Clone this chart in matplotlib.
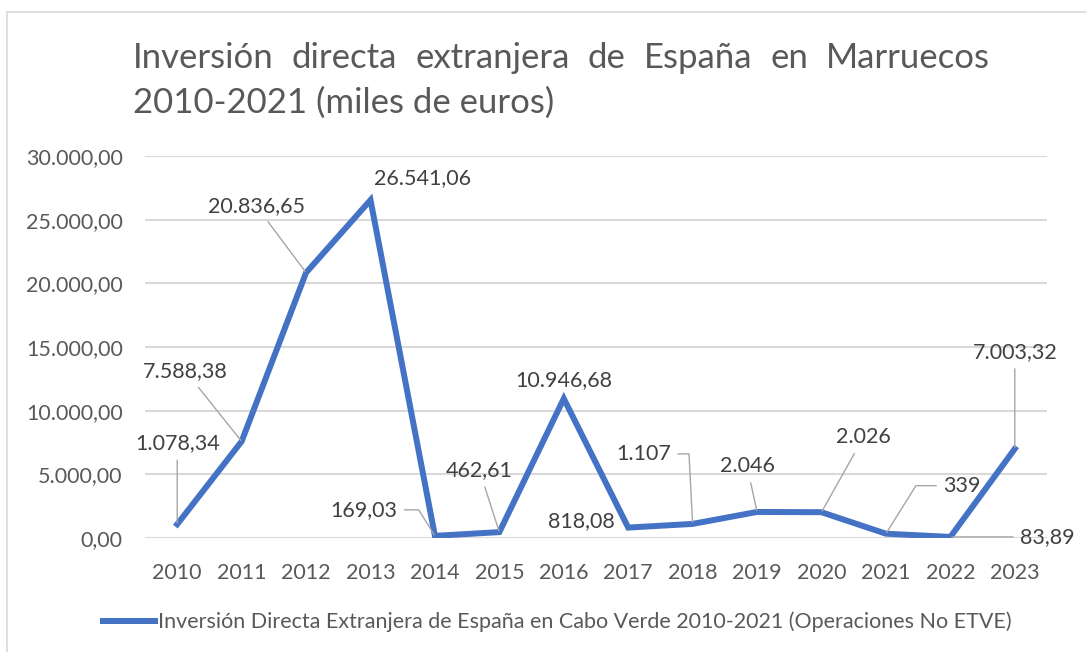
import matplotlib
matplotlib.use("Agg")
import matplotlib.pyplot as plt
from matplotlib.patches import Rectangle

YEARS = [2010, 2011, 2012, 2013, 2014, 2015, 2016, 2017, 2018, 2019, 2020, 2021, 2022, 2023]
VALUES = [1078.34, 7588.38, 20836.65, 26541.06, 169.03, 462.61, 10946.68,
          818.08, 1107, 2046, 2026, 339, 83.89, 7003.32]
YTICKS = [0, 5000, 10000, 15000, 20000, 25000, 30000]
SERIES = "Inversión Directa Extranjera de España en Cabo Verde 2010-2021 (Operaciones No ETVE)"
TITLE1 = "Inversión directa extranjera de España en Marruecos"
TITLE2 = "2010-2021 (miles de euros)"

# label offsets in pixels (dx, dy) from the point, and leader line style (None = no leader)
LABEL_OFF = [(0, 81), (-56, 70), (-50, 67), (52, 22), (-71, 26), (-20, 62), (0, 19),
             (-47, 6), (-49, 70), (-10, 46), (42, 75), (76, 48), (97, 0), (0, 97)]
STRAIGHT = "arc3"
LEADER = [STRAIGHT, STRAIGHT, STRAIGHT, None, "angle,angleA=0,angleB=122,rad=0",
          STRAIGHT, None, None, "angle,angleA=0,angleB=93,rad=0", STRAIGHT,
          STRAIGHT, "angle,angleA=0,angleB=58,rad=0", STRAIGHT, STRAIGHT]

BLUE, GRID, INK, TICK, LEAD = "#4472C4", "#D9D9D9", "#404040", "#595959", "#A6A6A6"
FONT = ["Lato", "DejaVu Sans"]


def es_num(v, dec):
    s = f"{v:,.{dec}f}"
    return s.replace(",", "X").replace(".", ",").replace("X", ".")


def fmt_label(v):
    return es_num(v, 0) if float(v).is_integer() else es_num(v, 2)


def main():
    plt.rcParams["font.family"] = FONT
    W, H = 1086, 652
    fig = plt.figure(figsize=(W / 100, H / 100), dpi=100)
    fig.patches.append(Rectangle((7 / W, -0.1), 1.2, (H - 12) / H + 0.1,
                                 transform=fig.transFigure, fill=False,
                                 edgecolor=GRID, lw=1.2))
    ax = fig.add_axes([145 / W, 1 - 538 / H, (1047 - 145) / W, (538 - 156) / H])
    x = list(range(len(YEARS)))
    ax.plot(x, VALUES, color=BLUE, lw=4.3, solid_joinstyle="miter", zorder=3,
            label=SERIES)
    ax.set_xlim(-0.5, len(YEARS) - 0.5)
    ax.set_ylim(0, 30000)
    ax.set_yticks(YTICKS)
    ax.set_yticklabels([es_num(t, 2) for t in YTICKS])
    ax.set_xticks(x)
    ax.set_xticklabels([str(y) for y in YEARS])
    ax.tick_params(axis="both", length=0, labelsize=15.5, colors=TICK)
    ax.tick_params(axis="y", pad=16)
    ax.tick_params(axis="x", pad=18)
    ax.grid(axis="y", color=GRID, lw=1.5)
    ax.set_axisbelow(True)
    for s in ax.spines.values():
        s.set_visible(False)

    for xi, v, (dx, dy), lead in zip(x, VALUES, LABEL_OFF, LEADER):
        ap = None
        if lead:
            ap = dict(arrowstyle="-", color=LEAD, lw=1.0, shrinkA=3, shrinkB=1,
                      connectionstyle=lead)
        ax.annotate(fmt_label(v), xy=(xi, v), xytext=(dx, dy),
                    textcoords="offset pixels", ha="center", va="center",
                    fontsize=15.5, color=INK, arrowprops=ap, zorder=4,
                    annotation_clip=False)

    # title: first line justified across the width, second line left aligned
    tkw = dict(fontsize=25, color=TICK, va="center", transform=fig.transFigure)
    words = TITLE1.split(" ")
    texts = [fig.text(0, 1 - 58 / H, w, ha="left", **tkw) for w in words]
    r = fig.canvas.get_renderer()
    widths = [t.get_window_extent(r).width for t in texts]
    x0, x1 = 133, 990
    gap = (x1 - x0 - sum(widths)) / (len(words) - 1)
    pos = x0
    for t, w in zip(texts, widths):
        t.set_x(pos / W)
        pos += w + gap
    fig.text(x0 / W, 1 - 103 / H, TITLE2, ha="left", **tkw)

    fig.legend(loc="center", bbox_to_anchor=(557 / W, 1 - 622 / H), frameon=False,
               fontsize=15.5, handlelength=2.45, handletextpad=0.1,
               labelcolor=TICK)
    fig.savefig("out.png", dpi=100, facecolor="white")


if __name__ == "__main__":
    main()
